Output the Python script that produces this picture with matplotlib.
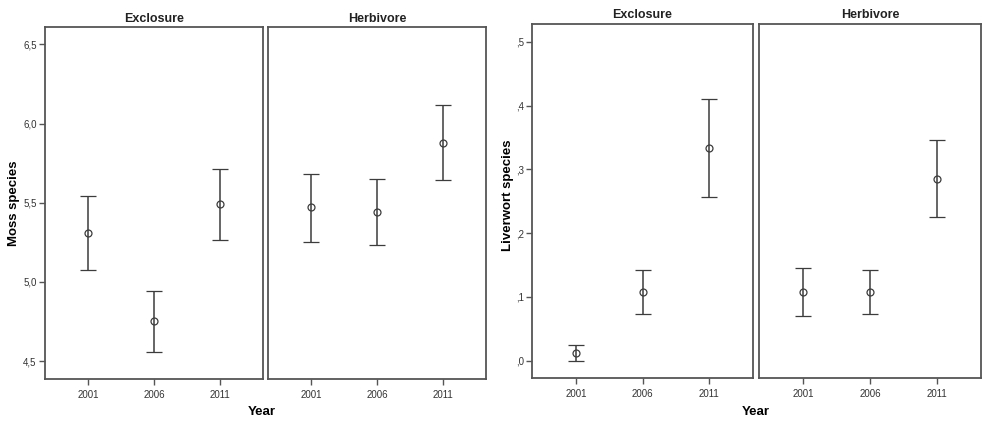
import numpy as np
import matplotlib
matplotlib.use("Agg")
import matplotlib.pyplot as plt

plt.rcParams['font.family'] = ['Liberation Sans', 'DejaVu Sans']

# anos e grupos
years = ['2001', '2006', '2011']
groups = ['Exclosure', 'Herbivore']

# musgos: media, limite superior e inferior
moss_mean = {'Exclosure': [5.31, 4.75, 5.49], 'Herbivore': [5.47, 5.44, 5.88]}
moss_hi = {'Exclosure': [5.545, 4.945, 5.715], 'Herbivore': [5.68, 5.65, 6.115]}
moss_lo = {'Exclosure': [5.075, 4.555, 5.265], 'Herbivore': [5.25, 5.23, 5.645]}
moss_ticks = [4.5, 5.0, 5.5, 6.0, 6.5]
moss_ticklabels = ['4,5', '5,0', '5,5', '6,0', '6,5']

# hepaticas
liv_mean = {'Exclosure': [0.0125, 0.108, 0.334], 'Herbivore': [0.108, 0.108, 0.285]}
liv_hi = {'Exclosure': [0.025, 0.142, 0.41], 'Herbivore': [0.146, 0.142, 0.346]}
liv_lo = {'Exclosure': [0.0, 0.074, 0.257], 'Herbivore': [0.07, 0.074, 0.226]}
liv_ticks = [0.0, 0.1, 0.2, 0.3, 0.4, 0.5]
liv_ticklabels = [',0', ',1', ',2', ',3', ',4', ',5']

cor = '#3c3c3c'


def painel(ax, mean, hi, lo, ylim, ticks, ticklabels, first):
    x = np.arange(len(years))
    m = np.array(mean)
    yerr = [m - np.array(lo), np.array(hi) - m]
    ax.errorbar(x, m, yerr=yerr, fmt='o', mfc='none', mec=cor, ms=5,
                mew=0.9, ecolor=cor, elinewidth=1.1, capsize=6, capthick=1.1)
    ax.set_xlim(-0.66, 2.66)
    ax.set_ylim(*ylim)
    ax.set_xticks(x)
    ax.set_xticklabels(years, fontsize=7, color='#333333')
    for s in ax.spines.values():
        s.set_color('#555555')
        s.set_linewidth(1.3)
    ax.tick_params(axis='x', direction='out', length=4, width=1, color='#555555', pad=4)
    if first:
        ax.set_yticks(ticks)
        ax.set_yticklabels(ticklabels, fontsize=7, color='#333333')
        ax.tick_params(axis='y', direction='out', length=4, width=1, color='#555555', pad=2)
    else:
        ax.set_yticks([])


fig = plt.figure(figsize=(9.84, 4.26), dpi=100)

# grafico da esquerda (musgos)
axL1 = fig.add_axes([0.0457, 0.110, 0.2215, 0.826])
axL2 = fig.add_axes([0.2724, 0.110, 0.2215, 0.826])
for ax, g, first in [(axL1, groups[0], True), (axL2, groups[1], False)]:
    painel(ax, moss_mean[g], moss_hi[g], moss_lo[g], (4.386, 6.608),
           moss_ticks, moss_ticklabels, first)
    ax.set_title(g, fontsize=9, fontweight='bold', color='#222222', pad=4)
axL1.set_ylabel('Moss species', fontsize=9.5, fontweight='bold')
axL1.yaxis.set_label_coords(-0.115, 0.5)
fig.text(0.266, 0.033, 'Year', fontsize=9.5, fontweight='bold', ha='center', va='center')

# grafico da direita (hepaticas)
axR1 = fig.add_axes([0.5407, 0.1127, 0.2246, 0.831])
axR2 = fig.add_axes([0.7713, 0.1127, 0.2256, 0.831])
for ax, g, first in [(axR1, groups[0], True), (axR2, groups[1], False)]:
    painel(ax, liv_mean[g], liv_hi[g], liv_lo[g], (-0.027, 0.528),
           liv_ticks, liv_ticklabels, first)
    ax.set_title(g, fontsize=9, fontweight='bold', color='#222222', pad=4)
axR1.set_ylabel('Liverwort species', fontsize=9.5, fontweight='bold')
axR1.yaxis.set_label_coords(-0.082, 0.515)
fig.text(0.768, 0.033, 'Year', fontsize=9.5, fontweight='bold', ha='center', va='center')

fig.savefig('out.png', dpi=100)
